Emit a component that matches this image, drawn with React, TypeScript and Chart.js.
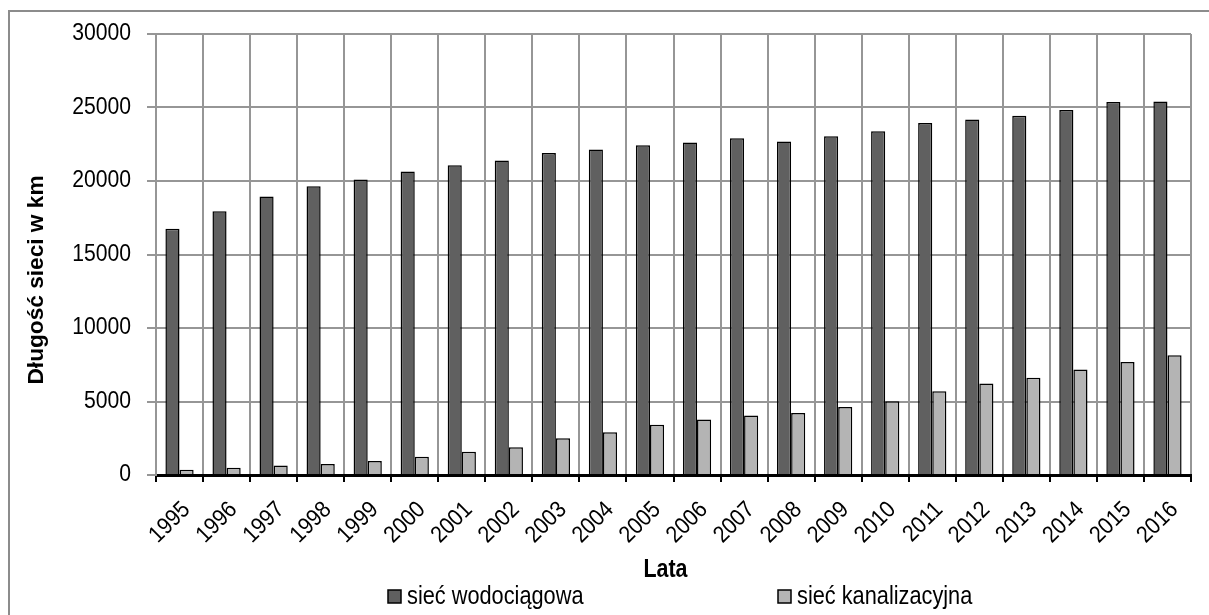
import React, { useEffect, useRef } from "react";
import { Chart, registerables } from "chart.js";

Chart.register(...registerables);

const years = ["1995", "1996", "1997", "1998", "1999", "2000", "2001", "2002", "2003", "2004", "2005", "2006", "2007", "2008", "2009", "2010", "2011", "2012", "2013", "2014", "2015", "2016"];
const waterNetwork = [16750, 17950, 18950, 19650, 20100, 20650, 21070, 21400, 21900, 22150, 22430, 22620, 22900, 22690, 23050, 23390, 23940, 24190, 24440, 24830, 25380, 25400];
const sewerNetwork = [360, 500, 640, 750, 950, 1250, 1590, 1890, 2500, 2910, 3410, 3780, 4050, 4210, 4620, 5010, 5690, 6220, 6610, 7180, 7680, 8150];
const seriesLabels = ["sieć wodociągowa", "sieć kanalizacyjna"];
const yTickValues = [0, 5000, 10000, 15000, 20000, 25000, 30000];
const yTitle = "Długość sieci w km";
const xTitle = "Lata";

const FONT = '"Liberation Sans", Arial, sans-serif';
const GRID = "#969696";
const DARK = "#606060";
const LIGHT = "#b4b4b4";

function drawText(ctx: any, text: string, x: number, y: number, font: string, align: string, rot: number, sx: number, sy: number) {
  ctx.save();
  ctx.translate(x, y);
  ctx.rotate(rot);
  ctx.scale(sx, sy);
  ctx.font = font;
  ctx.fillStyle = "#000";
  ctx.textAlign = align;
  ctx.textBaseline = "middle";
  ctx.fillText(text, 0, 0);
  ctx.restore();
}

const decor = {
  id: "decor",
  afterDraw(chart: any) {
    const { ctx, chartArea: a } = chart;
    const xs = chart.scales.x;
    const ys = chart.scales.y;
    // y tick labels
    yTickValues.forEach((v) => {
      drawText(ctx, String(v), a.left - 25, ys.getPixelForValue(v), `23.5px ${FONT}`, "right", 0, 0.9, 1);
    });
    // x tick labels
    years.forEach((lab, i) => {
      drawText(ctx, lab, xs.getPixelForValue(i) + 7, a.bottom + 31, `23.5px ${FONT}`, "right", -Math.PI / 4, 0.9, 1);
    });
    // y title
    drawText(ctx, yTitle, 37, 280, `bold 22px ${FONT}`, "center", -Math.PI / 2, 1.03, 1);
    // x title
    drawText(ctx, xTitle, (a.left + a.right) / 2 - 8, 570, `bold 25.5px ${FONT}`, "center", 0, 0.84, 1);
    // legend
    const lx = [388, 778];
    chart.data.datasets.forEach((ds: any, i: number) => {
      const bx = lx[i];
      const cy = 597;
      ctx.save();
      ctx.fillStyle = ds.backgroundColor;
      ctx.fillRect(bx, cy - 7, 13, 13);
      ctx.strokeStyle = "#000";
      ctx.lineWidth = 1.5;
      ctx.strokeRect(bx, cy - 7, 13, 13);
      ctx.restore();
      drawText(ctx, ds.label, bx + 19, cy, `25px ${FONT}`, "left", 0, 0.87, 1);
    });
  },
};

export default function App() {
  const ref = useRef<HTMLCanvasElement | null>(null);
  useEffect(() => {
    if (!ref.current) return;
    const chart = new Chart(ref.current, {
      type: "bar",
      data: {
        labels: years,
        datasets: [
          {
            label: seriesLabels[0],
            data: waterNetwork,
            backgroundColor: DARK,
            borderColor: "#000",
            borderWidth: 1.5,
            categoryPercentage: 0.6,
            barPercentage: 1.0,
          },
          {
            label: seriesLabels[1],
            data: sewerNetwork,
            backgroundColor: LIGHT,
            borderColor: "#000",
            borderWidth: 1.5,
            categoryPercentage: 0.6,
            barPercentage: 1.0,
          },
        ],
      },
      options: {
        responsive: true,
        maintainAspectRatio: false,
        animation: false,
        layout: { padding: { left: 0, top: 34, right: 18, bottom: 26 } },
        plugins: {
          legend: { display: false },
          tooltip: { enabled: false },
          title: { display: false },
        },
        scales: {
          x: {
            grid: { offset: true, color: GRID, lineWidth: 2, tickColor: "#000", tickLength: 7, tickWidth: 2 },
            border: { color: "#000", width: 3 },
            ticks: { display: false, autoSkip: false },
            afterFit: (s: any) => {
              s.height = 114;
            },
          },
          y: {
            min: 0,
            max: 30000,
            afterBuildTicks: (s: any) => {
              s.ticks = yTickValues.map((v) => ({ value: v }));
            },
            ticks: { display: false },
            grid: { color: GRID, lineWidth: 2, tickLength: 9 },
            border: { color: GRID, width: 2 },
            afterFit: (s: any) => {
              s.width = 156;
            },
          },
        },
      },
      plugins: [decor],
    });
    return () => chart.destroy();
  }, []);

  return (
    <div style={{ position: "fixed", left: 0, top: 0, width: 1209, height: 615, background: "#fff", overflow: "hidden" }}>
      <div style={{ position: "absolute", left: 8, top: 10, width: 1300, height: 700, border: "2px solid #8c8c8c" }} />
      <div style={{ position: "absolute", left: 0, top: 0, width: 1209, height: 615 }}>
        <canvas ref={ref} />
      </div>
    </div>
  );
}
